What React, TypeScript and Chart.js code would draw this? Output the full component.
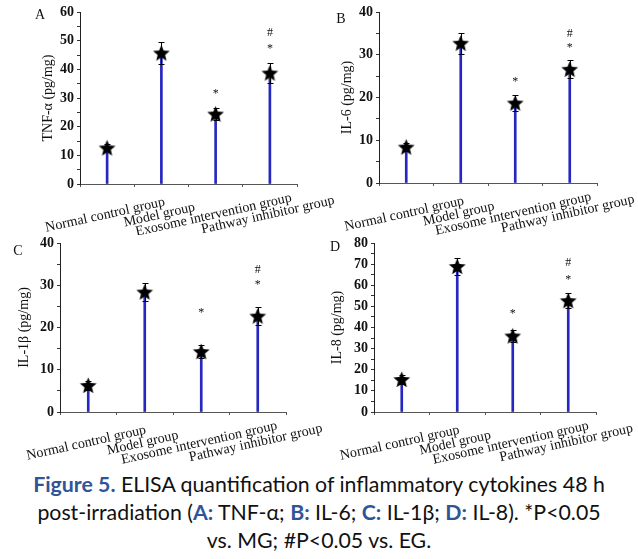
import React, { useEffect, useRef } from "react";
import { Chart, registerables } from "chart.js";

Chart.register(...registerables);

// ---------- data ----------
const categories = [
  "Normal control group",
  "Model group",
  "Exosome intervention group",
  "Pathway inhibitor group",
];

const tnfValues = [12.6, 45.7, 24.4, 38.7];
const tnfErrors = [1.2, 3.8, 2.0, 3.4];
const tnfStarMarks = [null, null, 32.0, 47.8];
const tnfHashMarks = [null, null, null, 52.7];

const il6Values = [8.4, 32.7, 18.7, 26.6];
const il6Errors = [1.0, 2.5, 1.9, 2.1];
const il6StarMarks = [null, null, 24.1, 32.0];
const il6HashMarks = [null, null, null, 35.0];

const il1bValues = [6.3, 28.4, 14.3, 22.7];
const il1bErrors = [1.0, 2.1, 1.5, 2.1];
const il1bStarMarks = [null, null, 23.9, 30.5];
const il1bHashMarks = [null, null, null, 33.7];

const il8Values = [15.4, 68.9, 36.0, 52.7];
const il8Errors = [2.0, 4.2, 3.0, 3.5];
const il8StarMarks = [null, null, 47.5, 63.7];
const il8HashMarks = [null, null, null, 70.6];

const SERIF = "'Liberation Serif', 'Times New Roman', serif";

function makeStar(): HTMLCanvasElement {
  const c = document.createElement("canvas");
  const s = 19;
  c.width = s;
  c.height = s;
  const ctx = c.getContext("2d")!;
  const cx = s / 2;
  const cy = s / 2 + 0.7;
  const R = 8.8;
  const r = 3.9;
  ctx.beginPath();
  for (let i = 0; i < 10; i++) {
    const rad = i % 2 === 0 ? R : r;
    const a = -Math.PI / 2 + (i * Math.PI) / 5;
    const x = cx + rad * Math.cos(a);
    const y = cy + rad * Math.sin(a);
    if (i === 0) ctx.moveTo(x, y);
    else ctx.lineTo(x, y);
  }
  ctx.closePath();
  ctx.fillStyle = "#000";
  ctx.fill();
  return c;
}

type PanelProps = {
  letter: string;
  yTitle: string;
  values: number[];
  errors: number[];
  starMarks: (number | null)[];
  hashMarks: (number | null)[];
  max: number;
  step: number;
  left: number;
  top: number;
  width: number;
  height: number;
  padL: number;
  yWidth: number;
  padT: number;
  padR: number;
  padB: number;
  letterDx: number;
  letterDy: number;
};

function Panel(p: PanelProps) {
  const ref = useRef<HTMLCanvasElement | null>(null);
  useEffect(() => {
    if (!ref.current) return;
    const star = makeStar();
    const plugin = {
      id: "panelExtras",
      afterDatasetDraw(chart: any, args: any) {
        if (args.index !== 0) return;
        const ctx = chart.ctx;
        const xs = chart.scales.x;
        const ys = chart.scales.y;
        ctx.save();
        ctx.strokeStyle = "#000";
        ctx.lineWidth = 1;
        p.values.forEach((v, i) => {
          const x = Math.round(xs.getPixelForValue(i)) + 0.5;
          const yt = Math.round(ys.getPixelForValue(v + p.errors[i])) + 0.5;
          const yb = Math.round(ys.getPixelForValue(v - p.errors[i])) + 0.5;
          ctx.beginPath();
          ctx.moveTo(x, yb);
          ctx.lineTo(x, yt);
          ctx.moveTo(x - 3, yt);
          ctx.lineTo(x + 3, yt);
          ctx.moveTo(x - 3, yb);
          ctx.lineTo(x + 3, yb);
          ctx.stroke();
        });
        ctx.restore();
      },
      afterDraw(chart: any) {
        const ctx = chart.ctx;
        const xs = chart.scales.x;
        const ys = chart.scales.y;
        const area = chart.chartArea;
        ctx.save();
        ctx.fillStyle = "#111";
        // significance marks
        ctx.font = `12px ${SERIF}`;
        ctx.textAlign = "center";
        ctx.textBaseline = "middle";
        p.starMarks.forEach((m, i) => {
          if (m == null) return;
          ctx.fillText("*", xs.getPixelForValue(i), ys.getPixelForValue(m) + 2);
        });
        p.hashMarks.forEach((m, i) => {
          if (m == null) return;
          ctx.fillText("#", xs.getPixelForValue(i), ys.getPixelForValue(m));
        });
        // panel letter
        ctx.font = `14px ${SERIF}`;
        ctx.fillText(p.letter, area.left + p.letterDx, area.top + p.letterDy);
        // category labels (rotated)
        ctx.font = `14px ${SERIF}`;
        categories.forEach((c, i) => {
          const x = xs.getPixelForValue(i) - 2;
          const y = area.bottom + 31;
          ctx.save();
          ctx.translate(x, y);
          ctx.rotate((-12.5 * Math.PI) / 180);
          ctx.fillText(c, 0, 0);
          ctx.restore();
        });
        ctx.restore();
      },
    };

    const chart = new Chart(ref.current, {
      type: "bar",
      data: {
        labels: categories,
        datasets: [
          {
            type: "bar",
            data: p.values,
            backgroundColor: "#2626c0",
            borderWidth: 0,
            barThickness: 2,
            order: 2,
          } as any,
          {
            type: "line",
            data: p.values,
            showLine: false,
            pointStyle: star,
            pointRadius: 9,
            order: 1,
          } as any,
        ],
      },
      options: {
        animation: false,
        responsive: false,
        devicePixelRatio: 1,
        layout: {
          padding: { left: p.padL, top: p.padT, right: p.padR, bottom: p.padB },
        },
        plugins: {
          legend: { display: false },
          tooltip: { enabled: false },
        },
        scales: {
          x: {
            type: "category",
            offset: true,
            grid: {
              display: true,
              drawOnChartArea: false,
              drawTicks: true,
              tickLength: 3,
              color: "#555",
              offset: true,
            },
            border: { color: "#555", width: 1 },
            ticks: { display: false },
            afterFit: (s: any) => {
              s.height = 3;
            },
          },
          y: {
            min: 0,
            max: p.max,
            ticks: {
              stepSize: p.step / 2,
              autoSkip: false,
              callback: (v: any) => (Number(v) % p.step === 0 ? String(v) : ""),
              font: { family: SERIF, size: 14, weight: "bold" },
              color: "#111",
              padding: 3,
            },
            grid: {
              drawOnChartArea: false,
              drawTicks: true,
              tickLength: 3,
              color: "#333",
            },
            border: { color: "#222", width: 1 },
            title: {
              display: true,
              text: p.yTitle,
              font: { family: SERIF, size: 14 },
              color: "#111",
              padding: 0,
            },
            afterFit: (s: any) => {
              s.width = p.yWidth;
            },
          },
        },
      } as any,
      plugins: [plugin as any],
    });
    return () => chart.destroy();
  }, []);
  return (
    <canvas
      ref={ref}
      width={p.width}
      height={p.height}
      style={{ position: "absolute", left: p.left, top: p.top, width: p.width, height: p.height }}
    />
  );
}

const blue = "#2f5597";

export default function App() {
  return (
    <div
      style={{
        position: "absolute",
        left: 0,
        top: 0,
        width: 638,
        height: 559,
        background: "#fff",
        overflow: "hidden",
      }}
    >
      <Panel
        letter="A"
        yTitle="TNF-α (pg/mg)"
        values={tnfValues}
        errors={tnfErrors}
        starMarks={tnfStarMarks}
        hashMarks={tnfHashMarks}
        max={60}
        step={10}
        left={0}
        top={0}
        width={345}
        height={235}
        padL={40}
        yWidth={40}
        padT={12}
        padR={48}
        padB={48}
        letterDx={-40}
        letterDy={3}
      />
      <Panel
        letter="B"
        yTitle="IL-6 (pg/mg)"
        values={il6Values}
        errors={il6Errors}
        starMarks={il6StarMarks}
        hashMarks={il6HashMarks}
        max={40}
        step={10}
        left={320}
        top={0}
        width={318}
        height={235}
        padL={19}
        yWidth={40}
        padT={12}
        padR={41}
        padB={49}
        letterDx={-38}
        letterDy={7}
      />
      <Panel
        letter="C"
        yTitle="IL-1β (pg/mg)"
        values={il1bValues}
        errors={il1bErrors}
        starMarks={il1bStarMarks}
        hashMarks={il1bHashMarks}
        max={40}
        step={10}
        left={0}
        top={230}
        width={345}
        height={235}
        padL={16}
        yWidth={44}
        padT={13}
        padR={59}
        padB={50}
        letterDx={-42}
        letterDy={8}
      />
      <Panel
        letter="D"
        yTitle="IL-8 (pg/mg)"
        values={il8Values}
        errors={il8Errors}
        starMarks={il8StarMarks}
        hashMarks={il8HashMarks}
        max={80}
        step={10}
        left={320}
        top={230}
        width={318}
        height={235}
        padL={9}
        yWidth={45}
        padT={13}
        padR={42}
        padB={50}
        letterDx={-39}
        letterDy={4}
      />
      <div
        style={{
          position: "absolute",
          left: 0,
          top: 470,
          width: 638,
          textAlign: "center",
          fontFamily: "Lato, 'Open Sans', sans-serif",
          fontSize: 21.3,
          lineHeight: "28px",
          color: "#111",
        }}
      >
        <span style={{ color: blue, fontWeight: "bold" }}>Figure 5.</span> ELISA quantification of inflammatory
        cytokines 48 h<br />
        post-irradiation (<span style={{ color: blue, fontWeight: "bold" }}>A:</span> TNF-α;{" "}
        <span style={{ color: blue, fontWeight: "bold" }}>B:</span> IL-6;{" "}
        <span style={{ color: blue, fontWeight: "bold" }}>C:</span> IL-1β;{" "}
        <span style={{ color: blue, fontWeight: "bold" }}>D:</span> IL-8). *P&lt;0.05
        <br />
        vs. MG; #P&lt;0.05 vs. EG.
      </div>
    </div>
  );
}
